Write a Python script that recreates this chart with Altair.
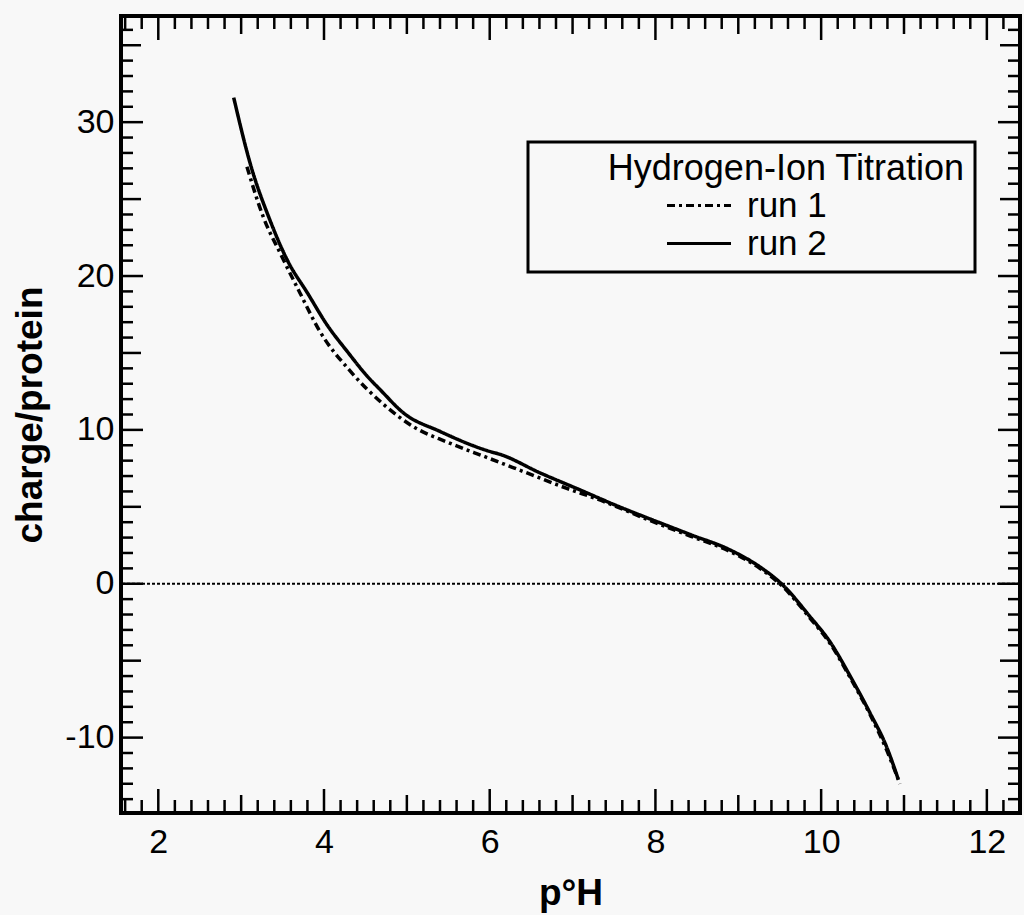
import altair as alt
import pandas as pd
import numpy as np

# ---- data ----
run2_ph = [2.91, 3.11, 3.35, 3.56, 3.80, 4.04, 4.28, 4.52, 4.68, 4.96, 5.40, 6.00, 6.13,
           6.61, 7.09, 7.61, 7.94, 8.42, 8.90, 9.26, 9.54, 9.86, 10.11, 10.35, 10.59, 10.79, 10.93]
run2_charge = [31.6, 27.3, 23.6, 21.0, 18.9, 16.8, 15.1, 13.5, 12.6, 11.1, 9.9, 8.6, 8.4,
               7.2, 6.1, 4.9, 4.2, 3.2, 2.2, 1.1, -0.1, -2.1, -3.8, -6.0, -8.4, -10.6, -12.7]
run1_ph = [3.07, 3.27, 3.47, 3.71, 3.95, 4.32, 4.71, 5.08, 5.49, 5.97, 6.45, 6.93, 7.30,
           7.94, 8.42, 8.90, 9.26, 9.54, 9.86, 10.11, 10.35, 10.59, 10.79, 10.95]
run1_charge = [27.1, 23.8, 21.5, 18.9, 16.4, 13.8, 11.7, 10.2, 9.2, 8.2, 7.2, 6.2, 5.5,
               4.1, 3.1, 2.1, 1.0, -0.2, -2.2, -3.9, -6.1, -8.5, -10.8, -13.0]
run_names = ["run 1", "run 2"]
legend_title = "Hydrogen-Ion Titration"

x_labels = [2, 4, 6, 8, 10, 12]
y_labels = [-10, 0, 10, 20, 30]
x_domain = [1.55, 12.4]
y_domain = [-14.9, 36.9]

# tick positions (axis values)
x_major = x_labels
x_mid = [3, 5, 7, 9, 11]
x_minor = [round(v, 1) for v in np.arange(1.6, 12.41, 0.2) if abs(v - round(v)) > 1e-6]
y_major = y_labels
y_mid = [-5, 5, 15, 25, 35]
y_minor = [v for v in range(-14, 37) if v % 5 != 0]

W, H = 899, 797
FONT = "Liberation Sans"

df = pd.concat([
    pd.DataFrame({"ph": run1_ph, "charge": run1_charge, "run": run_names[0]}),
    pd.DataFrame({"ph": run2_ph, "charge": run2_charge, "run": run_names[1]}),
])

xs = alt.Scale(domain=x_domain, nice=False, zero=False)
ys = alt.Scale(domain=y_domain, nice=False, zero=False)
xaxis = alt.Axis(values=x_labels, title="p°H", labelPadding=12, titlePadding=16)
yaxis = alt.Axis(values=y_labels, title="charge/protein", labelPadding=7, titlePadding=15,
                 labelExpr="datum.value < 0 ? '-' + abs(datum.value) : '' + datum.value")


def X():
    return alt.X("ph:Q", scale=xs, axis=xaxis)


def Y():
    return alt.Y("charge:Q", scale=ys, axis=yaxis)


# legend symbol: a short horizontal stroke; the trailing move-to only widens the
# entry box so that the framed legend matches the reference width
legend = alt.Legend(
    title=legend_title,
    orient="none", legendX=407, legendY=126,
    strokeColor="black", padding=10,
    symbolType="M-2,0H2M16.2,0", symbolSize=1024, symbolStrokeWidth=3,
    symbolStrokeColor="black", symbolOffset=143.5, labelOffset=30.5,
    titleFont=FONT, titleFontSize=36, titleFontWeight="normal", titleColor="black",
    titlePadding=0, titleLimit=1000, titleAnchor="end",
    labelFont=FONT, labelFontSize=35, labelColor="black", rowPadding=2,
)

lines = alt.Chart(df).mark_line(color="black", strokeWidth=3.5, interpolate="monotone").encode(
    x=X(), y=Y(),
    strokeDash=alt.StrokeDash("run:N", scale=alt.Scale(domain=run_names, range=[[8, 4, 3, 4], [1, 0]]),
                              legend=legend),
)

zero = alt.Chart(pd.DataFrame({"charge": [0]})).mark_rule(
    color="black", strokeWidth=2, strokeDash=[3, 2]).encode(y=Y())

layers = [zero]


def xticks(vals, length):
    d = pd.DataFrame({"ph": vals})
    b = alt.Chart(d).mark_rule(color="black", strokeWidth=2.5).encode(
        x=X(), y=alt.value(H), y2=alt.value(H - length))
    t = alt.Chart(d).mark_rule(color="black", strokeWidth=2.5).encode(
        x=X(), y=alt.value(0), y2=alt.value(length))
    return [b, t]


def yticks(vals, length):
    d = pd.DataFrame({"charge": vals})
    l = alt.Chart(d).mark_rule(color="black", strokeWidth=2.5).encode(
        y=Y(), x=alt.value(0), x2=alt.value(length))
    r = alt.Chart(d).mark_rule(color="black", strokeWidth=2.5).encode(
        y=Y(), x=alt.value(W), x2=alt.value(W - length))
    return [l, r]


layers += xticks(x_major, 24) + xticks(x_mid, 18) + xticks(x_minor, 13)
layers += yticks(y_major, 22) + yticks(y_mid, 20) + yticks(y_minor, 12)
layers.append(lines)

chart = alt.layer(*layers).properties(
    width=W, height=H,
    padding={"left": 121, "top": 16, "right": 4, "bottom": 102},
    autosize=alt.AutoSizeParams(type="none"),
    background="#f8f8f8",
).configure_view(
    stroke="black", strokeWidth=4, fill=None
).configure_axis(
    labelFont=FONT, labelFontSize=34, labelColor="black",
    titleFont=FONT, titleFontSize=37, titleFontWeight="bold", titleColor="black",
    tickSize=0, domain=False, grid=False,
).configure_legend(
    strokeWidth=3,
)

chart.save("out.html", embed_options={"renderer": "svg", "actions": False})
